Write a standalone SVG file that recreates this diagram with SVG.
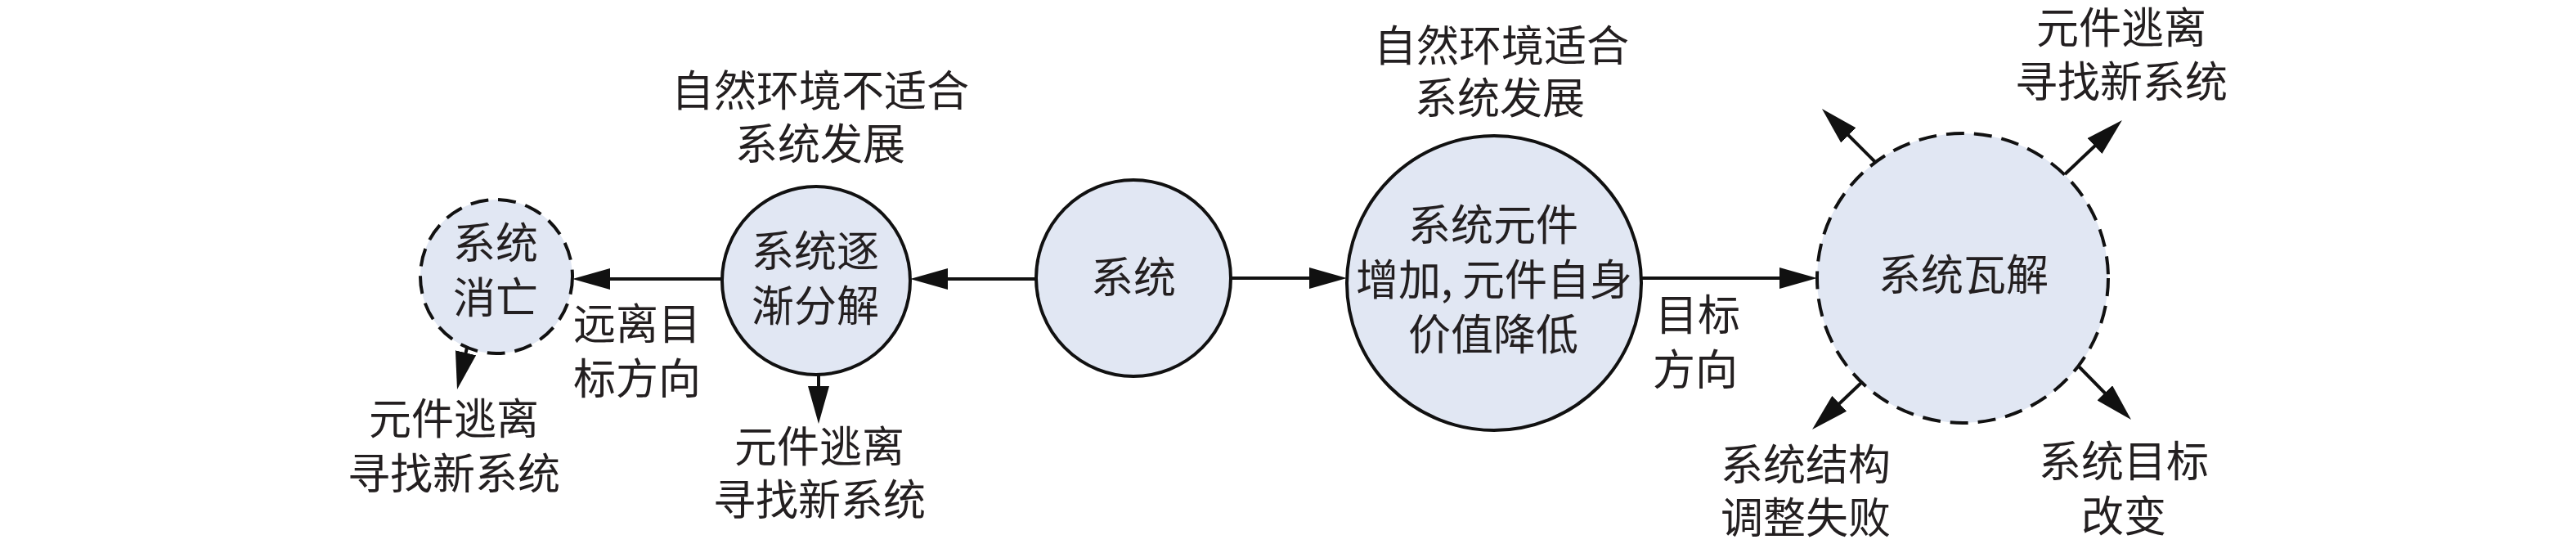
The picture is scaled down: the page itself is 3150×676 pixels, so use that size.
<svg xmlns="http://www.w3.org/2000/svg" width="3150" height="676" viewBox="0 0 3150 676">
<style>
.node{fill:#E1E7F3;stroke:#111;stroke-width:4}
.dash{stroke-dasharray:22 12}
.t{font-family:"Noto Sans CJK SC","Noto Sans CJK JP",sans-serif;font-size:52px;font-weight:400;fill:#231F20;text-anchor:middle}
.c{fill:none;stroke:#111;stroke-width:4}
</style>
<defs>
<marker id="ah" markerUnits="userSpaceOnUse" viewBox="0 0 46 26" refX="26" refY="13" markerWidth="46" markerHeight="26" orient="auto">
<path d="M0,0 L46,13 L0,26 Z" fill="#111"/>
</marker>
</defs>
<rect width="3150" height="676" fill="#fff"/>
<g id="connectors">
<line class="c" x1="1268" y1="341" x2="1133" y2="341" marker-end="url(#ah)"/>
<line class="c" x1="884" y1="341" x2="720" y2="341" marker-end="url(#ah)"/>
<line class="c" x1="1505" y1="340" x2="1627" y2="340" marker-end="url(#ah)"/>
<line class="c" x1="2007" y1="340" x2="2202" y2="340" marker-end="url(#ah)"/>
<line class="c" x1="1001" y1="459" x2="1001" y2="498" marker-end="url(#ah)"/>
<line class="c" x1="580" y1="387" x2="563.6" y2="456.5" marker-end="url(#ah)"/>
<line class="c" x1="2293" y1="198" x2="2242.1" y2="147.1" marker-end="url(#ah)"/>
<line class="c" x1="2525" y1="213" x2="2580.4" y2="160.7" marker-end="url(#ah)"/>
<line class="c" x1="2278" y1="466" x2="2230.5" y2="511.2" marker-end="url(#ah)"/>
<line class="c" x1="2542" y1="448" x2="2592" y2="498.8" marker-end="url(#ah)"/>
</g>
<g id="node-xiaowang">
<ellipse class="node dash" cx="607" cy="338" rx="93" ry="94"/>
<text class="t" x="606" y="316">系统</text>
<text class="t" x="606" y="383">消亡</text>
</g>
<g id="node-fenjie">
<ellipse class="node" cx="998" cy="343" rx="115" ry="115"/>
<text class="t" x="997" y="326">系统逐</text>
<text class="t" x="997" y="393">渐分解</text>
</g>
<g id="node-xitong">
<ellipse class="node" cx="1386" cy="340" rx="119" ry="120"/>
<text class="t" x="1386" y="358">系统</text>
</g>
<g id="node-zengjia">
<ellipse class="node" cx="1827" cy="346" rx="180" ry="180"/>
<text class="t" x="1826" y="294">系统元件</text>
<text class="t" x="1827" y="361">增加, 元件自身</text>
<text class="t" x="1826" y="428">价值降低</text>
</g>
<g id="node-wajie">
<ellipse class="node dash" cx="2400" cy="340" rx="178" ry="177"/>
<text class="t" x="2401" y="355">系统瓦解</text>
</g>
<g id="labels">
<text class="t" x="1003" y="130">自然环境不适合</text>
<text class="t" x="1003" y="195">系统发展</text>
<text class="t" x="1836" y="75">自然环境适合</text>
<text class="t" x="1834" y="139">系统发展</text>
<text class="t" x="779" y="415">远离目</text>
<text class="t" x="779" y="482">标方向</text>
<text class="t" x="555" y="531">元件逃离</text>
<text class="t" x="555" y="598">寻找新系统</text>
<text class="t" x="1002" y="565">元件逃离</text>
<text class="t" x="1002" y="630">寻找新系统</text>
<text class="t" x="2076" y="404">目标</text>
<text class="t" x="2073" y="471">方向</text>
<text class="t" x="2594" y="53">元件逃离</text>
<text class="t" x="2594" y="119">寻找新系统</text>
<text class="t" x="2208" y="587">系统结构</text>
<text class="t" x="2208" y="652">调整失败</text>
<text class="t" x="2597" y="583">系统目标</text>
<text class="t" x="2597" y="650">改变</text>
</g>
</svg>
